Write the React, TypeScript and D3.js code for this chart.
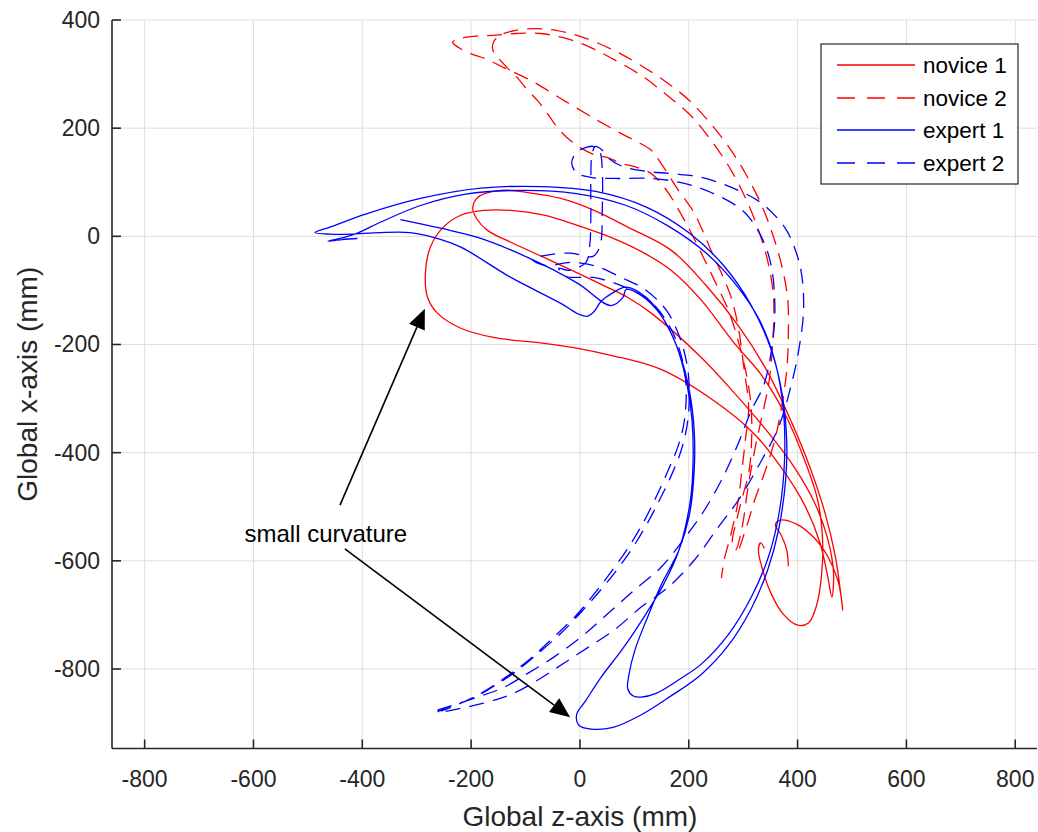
import React from "react";
import * as d3 from "d3";

// Each point is [global z (mm), global x (mm)]
type Pt = [number, number];

const seriesNames = ["novice 1", "novice 2", "expert 1", "expert 2"];

const zTicks = [-800, -600, -400, -200, 0, 200, 400, 600, 800];
const xTicks = [-800, -600, -400, -200, 0, 200, 400];

const novice1: Pt[] = [
  [383, -610], [380, -580], [369, -551], [359, -534], [367, -525], [398, -532], [429, -556],
  [455, -591], [474, -636], [481, -673], [483, -691], [479, -658], [470, -595], [450, -510],
  [422, -425], [389, -344], [345, -251], [293, -168], [232, -91], [168, -26], [88, 17],
  [26, 48], [-35, 70], [-96, 81], [-146, 85], [-188, 72], [-197, 52], [-190, 33], [-170, 11],
  [-127, -11], [-66, -39], [-4, -68], [44, -91], [88, -113], [131, -142], [223, -224],
  [284, -290], [347, -364], [394, -427], [431, -492], [455, -558], [466, -621], [463, -667],
  [455, -627], [441, -566], [413, -497], [374, -433], [319, -364], [245, -303], [149, -246],
  [57, -220], [-4, -207], [-66, -198], [-159, -187], [-219, -170], [-262, -142], [-280, -113],
  [-284, -68], [-275, -20], [-251, 17], [-219, 39], [-177, 48], [-127, 48], [-66, 39],
  [-4, 20], [57, -2], [118, -31], [168, -63], [223, -118], [284, -198], [334, -257],
  [376, -327], [413, -414], [437, -488], [446, -562], [444, -627], [435, -682], [420, -715],
  [400, -719], [374, -699], [352, -662], [335, -614], [328, -580], [332, -567], [339, -577],
];

const novice2: Pt[] = [
  [293, -577], [310, -525], [321, -488], [339, -438], [358, -377], [371, -312], [380, -248],
  [383, -183], [382, -118], [372, -59], [356, -2], [334, 57], [306, 113], [275, 163],
  [238, 211], [199, 253], [159, 285], [112, 316], [70, 340], [29, 359], [-7, 372], [-44, 381],
  [-81, 384], [-118, 381], [-146, 372], [-159, 359], [-160, 344], [-151, 331], [-133, 311],
  [-114, 292], [-96, 270], [-77, 250], [-59, 226], [-41, 201], [-22, 181], [2, 163],
  [29, 150], [50, 146], [76, 135], [103, 128], [131, 116], [155, 91], [192, 30], [223, -31],
  [247, -81], [273, -137], [293, -201], [308, -266], [315, -322], [315, -390], [310, -438],
  [297, -488], [288, -525], [280, -567], [286, -580], [297, -543], [310, -457], [321, -396],
  [334, -335], [347, -272], [354, -201], [356, -118], [347, -54], [330, 6], [306, 67],
  [278, 122], [245, 172], [205, 222], [159, 262], [112, 298], [66, 325], [20, 349],
  [-26, 366], [-72, 375], [-118, 375], [-155, 372], [-192, 370], [-219, 366], [-234, 359],
  [-223, 349], [-201, 338], [-170, 327], [-140, 312], [-90, 288], [-29, 251], [33, 214],
  [76, 190], [103, 176], [131, 159], [149, 135], [181, 85], [210, 43], [241, -26], [260, -68],
  [278, -113], [291, -168], [302, -248], [310, -316], [304, -377], [297, -438], [291, -488],
  [278, -549], [265, -599], [260, -632],
];

const expert1: Pt[] = [
  [-330, 31], [-256, 15], [-188, -2], [-96, -39], [-4, -87], [57, -128], [79, -113], [85, -98],
  [112, -109], [149, -146], [177, -201], [197, -275], [206, -340], [208, -414], [203, -488],
  [182, -580], [153, -645], [122, -697], [79, -762], [39, -815], [11, -858], [-6, -884],
  [-2, -904], [20, -911], [61, -908], [112, -885], [164, -852], [223, -810], [273, -756],
  [315, -688], [345, -617], [365, -543], [378, -451], [380, -377], [372, -294], [352, -211],
  [315, -128], [264, -54], [201, 6], [122, 54], [29, 83], [-72, 92], [-182, 89], [-293, 70],
  [-394, 41], [-459, 17], [-487, 7], [-459, 4], [-422, 4], [-367, 7], [-312, 7], [-269, -2],
  [-219, -20], [-127, -76], [-35, -124], [-2, -144], [13, -148], [26, -139], [39, -120],
  [61, -104], [85, -94], [122, -113], [153, -152], [182, -214], [201, -285], [210, -359],
  [210, -433], [201, -516], [182, -580], [149, -645], [122, -710], [101, -765], [90, -811],
  [88, -837], [98, -850], [112, -852], [140, -845], [186, -817], [223, -791], [273, -736],
  [315, -667], [347, -591], [367, -506], [376, -414], [374, -322], [359, -233], [330, -155],
  [288, -91], [232, -31], [164, 18], [85, 57], [-7, 79], [-109, 85], [-210, 78], [-293, 57],
  [-367, 26], [-409, 6], [-441, -4], [-463, -9], [-437, -6], [-409, -4],
];

const expert2: Pt[] = [
  [-262, -876], [-188, -852], [-140, -834], [-96, -808], [-48, -778], [2, -741], [52, -697],
  [100, -654], [149, -612], [199, -549], [229, -506], [260, -451], [291, -383], [315, -322],
  [339, -272], [356, -179], [358, -118], [352, -57], [339, -13], [315, 30], [291, 54],
  [241, 81], [192, 98], [131, 107], [63, 107], [20, 109], [-7, 118], [-15, 137], [-6, 155],
  [13, 165], [26, 166], [37, 155], [41, 122], [41, 48], [37, -17], [24, -37], [-17, -31],
  [-63, -35], [-87, -43], [-63, -54], [-17, -48], [29, -55], [76, -76], [122, -100],
  [159, -137], [182, -183], [197, -238], [201, -294], [197, -349], [186, -396], [168, -442],
  [146, -488], [122, -534], [94, -580], [63, -623], [33, -660], [2, -695], [-35, -734],
  [-85, -778], [-122, -808], [-170, -839], [-206, -858], [-247, -872], [-262, -880],
  [-177, -863], [-122, -845], [-72, -817], [-29, -789], [15, -760], [63, -728], [112, -686],
  [162, -649], [210, -599], [254, -538], [291, -488], [334, -414], [365, -353], [389, -272],
  [402, -211], [411, -137], [407, -68], [394, -20], [376, 17], [334, 61], [291, 85],
  [223, 109], [168, 116], [122, 120], [79, 129], [53, 144], [39, 161], [28, 166], [22, 150],
  [20, 104], [20, 39], [18, -17], [11, -48], [-20, -63], [-39, -59], [-26, -74], [24, -76],
  [76, -91], [127, -118], [164, -165], [186, -220], [195, -275], [192, -340], [181, -386],
  [162, -433], [140, -482], [116, -530], [88, -577], [57, -621], [24, -664], [-7, -701],
  [-48, -741], [-90, -780], [-136, -815], [-182, -845], [-223, -865], [-256, -878],
];

// Annotation: label anchor and two arrows [tail, head] in data units
const noteText = "small curvature";
const noteAnchor: Pt = [-467, -566];
const noteArrows: [Pt, Pt][] = [
  [[-441, -497], [-285, -134]],
  [[-432, -578], [-18, -889]],
];

const WIDTH = 1038;
const HEIGHT = 832;
const plot = { left: 112, right: 1037, top: 20, bottom: 748.5 };
const FONT = "'Liberation Sans', Arial, Helvetica, sans-serif";
const AXIS_COLOR = "#262626";
const GRID_COLOR = "#dfdfdf";
const DASH = "15,9";

export default function App() {
  const zScale = d3.scaleLinear().domain([-860, 840]).range([plot.left, plot.right]);
  const xScale = d3.scaleLinear().domain([-947, 400]).range([plot.bottom, plot.top]);

  const path = d3
    .line<Pt>()
    .x((d) => zScale(d[0]))
    .y((d) => xScale(d[1]))
    .curve(d3.curveCatmullRom.alpha(0.5));

  const series = [
    { name: seriesNames[0], data: novice1, color: "#ff0000", dash: undefined },
    { name: seriesNames[1], data: novice2, color: "#ff0000", dash: DASH },
    { name: seriesNames[2], data: expert1, color: "#0000ff", dash: undefined },
    { name: seriesNames[3], data: expert2, color: "#0000ff", dash: DASH },
  ];

  const tickLen = 9;

  const legend = { x: 821, y: 44, w: 197, h: 140, rowY: [65, 98, 130, 163] };

  const arrowHead = (tail: Pt, head: Pt) => {
    const x0 = zScale(tail[0]);
    const y0 = xScale(tail[1]);
    const x1 = zScale(head[0]);
    const y1 = xScale(head[1]);
    const a = Math.atan2(y1 - y0, x1 - x0);
    const len = 20;
    const half = 8.5;
    const bx = x1 - len * Math.cos(a);
    const by = y1 - len * Math.sin(a);
    const px = -Math.sin(a) * half;
    const py = Math.cos(a) * half;
    return {
      shaft: { x0, y0, x1: bx, y1: by },
      head: `M${x1},${y1}L${bx + px},${by + py}L${bx - px},${by - py}Z`,
    };
  };

  return (
    <svg
      width={WIDTH}
      height={HEIGHT}
      style={{ position: "absolute", left: 0, top: 0, background: "#fff" }}
      fontFamily={FONT}
    >
      <rect x={0} y={0} width={WIDTH} height={HEIGHT} fill="#fff" />
      <defs>
        <clipPath id="plot-area">
          <rect x={plot.left} y={plot.top} width={plot.right - plot.left} height={plot.bottom - plot.top} />
        </clipPath>
      </defs>

      {/* grid */}
      <g stroke={GRID_COLOR} strokeWidth={1}>
        {zTicks.map((t) => (
          <line key={`gz${t}`} x1={zScale(t)} x2={zScale(t)} y1={plot.top} y2={plot.bottom} />
        ))}
        {xTicks.map((t) => (
          <line key={`gx${t}`} x1={plot.left} x2={plot.right} y1={xScale(t)} y2={xScale(t)} />
        ))}
      </g>

      {/* trajectories */}
      <g clipPath="url(#plot-area)" fill="none">
        {series.map((s) => (
          <path
            key={s.name}
            d={path(s.data) ?? ""}
            stroke={s.color}
            strokeWidth={1.3}
            strokeDasharray={s.dash}
            strokeLinejoin="round"
          />
        ))}
      </g>

      {/* axes */}
      <g stroke={AXIS_COLOR} strokeWidth={1.6} fill="none">
        <line x1={plot.left} x2={plot.left} y1={plot.top} y2={plot.bottom} />
        <line x1={plot.left} x2={plot.right} y1={plot.bottom} y2={plot.bottom} />
        {zTicks.map((t) => (
          <line key={`tz${t}`} x1={zScale(t)} x2={zScale(t)} y1={plot.bottom} y2={plot.bottom - tickLen} />
        ))}
        {xTicks.map((t) => (
          <line key={`tx${t}`} x1={plot.left} x2={plot.left + tickLen} y1={xScale(t)} y2={xScale(t)} />
        ))}
      </g>

      <g fill={AXIS_COLOR} fontSize={23}>
        {zTicks.map((t) => (
          <text key={`lz${t}`} x={zScale(t)} y={779} textAnchor="middle" dominantBaseline="central">
            {t}
          </text>
        ))}
        {xTicks.map((t) => (
          <text key={`lx${t}`} x={plot.left - 12} y={xScale(t)} textAnchor="end" dominantBaseline="central">
            {t}
          </text>
        ))}
      </g>

      <text x={zScale(0)} y={816} textAnchor="middle" dominantBaseline="central" fontSize={28} fill={AXIS_COLOR}>
        Global z-axis (mm)
      </text>
      <text
        transform={`translate(27,${(plot.top + plot.bottom) / 2}) rotate(-90)`}
        textAnchor="middle"
        dominantBaseline="central"
        fontSize={28}
        fill={AXIS_COLOR}
      >
        Global x-axis (mm)
      </text>

      {/* annotation */}
      <text
        x={zScale(noteAnchor[0])}
        y={xScale(noteAnchor[1])}
        textAnchor="middle"
        fontSize={24}
        fill="#000"
      >
        {noteText}
      </text>
      {noteArrows.map(([tail, head], i) => {
        const a = arrowHead(tail, head);
        return (
          <g key={`arrow${i}`}>
            <line x1={a.shaft.x0} y1={a.shaft.y0} x2={a.shaft.x1} y2={a.shaft.y1} stroke="#000" strokeWidth={1.6} />
            <path d={a.head} fill="#000" />
          </g>
        );
      })}

      {/* legend */}
      <g>
        <rect x={legend.x} y={legend.y} width={legend.w} height={legend.h} fill="#fff" stroke={AXIS_COLOR} strokeWidth={1.2} />
        {series.map((s, i) => (
          <g key={`lg${s.name}`}>
            <line
              x1={837}
              x2={915}
              y1={legend.rowY[i]}
              y2={legend.rowY[i]}
              stroke={s.color}
              strokeWidth={1.3}
              strokeDasharray={s.dash ? "18,12" : undefined}
            />
            <text x={923} y={legend.rowY[i]} dominantBaseline="central" fontSize={22.5} fill="#000">
              {s.name}
            </text>
          </g>
        ))}
      </g>
    </svg>
  );
}
